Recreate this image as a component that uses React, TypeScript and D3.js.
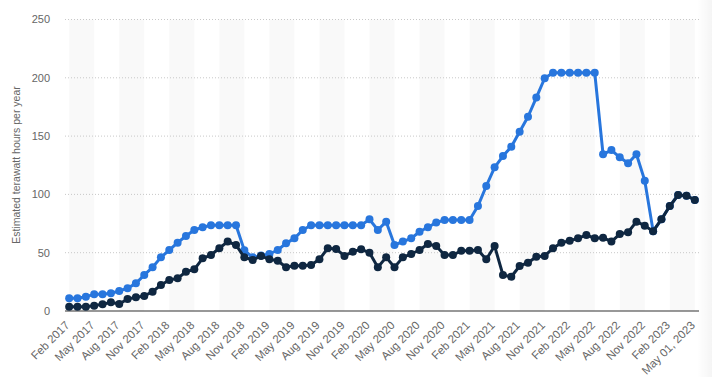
import React from "react";
import * as d3 from "d3";

const tickLabels = [
  "Feb 2017", "May 2017", "Aug 2017", "Nov 2017",
  "Feb 2018", "May 2018", "Aug 2018", "Nov 2018",
  "Feb 2019", "May 2019", "Aug 2019", "Nov 2019",
  "Feb 2020", "May 2020", "Aug 2020", "Nov 2020",
  "Feb 2021", "May 2021", "Aug 2021", "Nov 2021",
  "Feb 2022", "May 2022", "Aug 2022", "Nov 2022",
  "Feb 2023", "May 01, 2023",
];
const tickIndices = [
  0, 3, 6, 9, 12, 15, 18, 21, 24, 27, 30, 33, 36, 39, 42, 45, 48, 51, 54, 57,
  60, 63, 66, 69, 72, 75,
];

// Upper estimate (blue)
const maxSeries = [
  10.9, 10.9, 12.3, 14.3, 14.3, 15.2, 17.2, 19.5, 23.7, 30.9, 37.5, 46,
  52.3, 58.6, 64.3, 69.5, 71.8, 73.5, 73.5, 73.5, 73.5, 52, 46, 47.5,
  48.9, 52.3, 58, 62.3, 69.5, 73.5, 73.5, 73.5, 73.5, 73.5, 73.5, 73.5,
  78.6, 69.5, 76.6, 56.6, 59.5, 62.3, 68, 71.8, 75.8, 78, 78, 78,
  78, 90, 107.2, 123.2, 132.9, 140.9, 153.8, 166.6, 183, 199.6, 204.4, 204.4,
  204.4, 204.4, 204.4, 204.4, 134.4, 138, 131.8, 126.7, 134.4, 111.8, 68.5, 78.6,
  90, 99.5, 98.9, 95.2,
];
// Estimate (navy)
const estSeries = [
  3.7, 3.7, 3.7, 4.6, 5.7, 7.5, 6, 10.3, 11.7, 12.9, 16.6, 22.3,
  26.6, 28, 33.7, 35.7, 45.2, 48, 53.8, 59.5, 56.6, 46, 43.7, 47.2,
  44.3, 43.1, 37.5, 38.9, 38.9, 39.5, 44.3, 53.8, 53.2, 47.2, 50.9, 52.9,
  50, 37.5, 46, 37.5, 46, 48.9, 52.3, 57.5, 55.7, 48, 48, 51.7,
  51.7, 52.3, 44.3, 55.7, 30.9, 29.4, 38.6, 41.4, 46.6, 47.2, 53.8, 58.6,
  60.3, 62.3, 65.2, 62.3, 62.9, 59.5, 66, 67.5, 76.6, 73.2, 68.5, 78.6,
  90, 99.5, 98.9, 95.2,
];
const yTicks = [0, 50, 100, 150, 200, 250];
const yTitle = "Estimated terawatt hours per year";

const W = 712;
const H = 377;
const L = 65;
const R = 699;
const T = 19.5;
const B = 311;
const FONT = "'Liberation Sans', Arial, sans-serif";
const BLUE = "#2876dd";
const NAVY = "#0f2741";

export default function App() {
  const n = estSeries.length;
  const idx = d3.range(n);
  const x = d3.scaleBand<number>().domain(idx).range([L, R]);
  const cx = (i: number) => (x(i) as number) + x.bandwidth() / 2;
  const y = d3.scaleLinear().domain([0, 250]).range([B, T]);
  const line = d3
    .line<number>()
    .x((_, i) => cx(i))
    .y((d) => y(d));

  const bands = d3.range(0, n, 6).map((s) => [s, Math.min(s + 3, n - 1)]);

  const series = [
    { data: maxSeries, color: BLUE },
    { data: estSeries, color: NAVY },
  ];

  return (
    <svg
      width={W}
      height={H}
      style={{ position: "absolute", left: 0, top: 0, background: "#fff" }}
      fontFamily={FONT}
    >
      <defs>
        <linearGradient id="fade" x1="0" x2="1" y1="0" y2="0">
          <stop offset="0" stopColor="#000" stopOpacity={0} />
          <stop offset="1" stopColor="#000" stopOpacity={0.04} />
        </linearGradient>
      </defs>
      {bands.map(([a, b]) => (
        <rect
          key={a}
          x={cx(a)}
          y={T}
          width={cx(b) - cx(a)}
          height={B - T}
          fill="#f9f9f9"
        />
      ))}
      {yTicks.map((t) =>
        t === 0 ? null : (
          <line
            key={t}
            x1={L}
            x2={R}
            y1={y(t)}
            y2={y(t)}
            stroke="#c8c8c8"
            strokeDasharray="1,2"
          />
        )
      )}
      {yTicks.map((t) => (
        <text
          key={t}
          x={50}
          y={y(t)}
          dy="0.35em"
          textAnchor="end"
          fontSize={11}
          fill="#666"
        >
          {t}
        </text>
      ))}
      <text
        transform={`translate(20,165) rotate(-90)`}
        textAnchor="middle"
        fontSize={10.5}
        fill="#666"
      >
        {yTitle}
      </text>
      <line x1={L} x2={R} y1={B} y2={B} stroke="#333" strokeWidth={1.2} />
      {tickIndices.map((ti, k) => (
        <text
          key={ti}
          transform={`translate(${cx(ti) + 1},${B + 15}) rotate(-45)`}
          textAnchor="end"
          fontSize={11.5}
          fill="#666"
        >
          {tickLabels[k]}
        </text>
      ))}
      {series.map((s) => (
        <g key={s.color}>
          <path
            d={line(s.data) as string}
            fill="none"
            stroke={s.color}
            strokeWidth={3}
            strokeLinejoin="round"
          />
          {s.data.map((v, i) => (
            <circle key={i} cx={cx(i)} cy={y(v)} r={4} fill={s.color} />
          ))}
        </g>
      ))}
      <rect x={697} y={0} width={15} height={H} fill="url(#fade)" />
    </svg>
  );
}
